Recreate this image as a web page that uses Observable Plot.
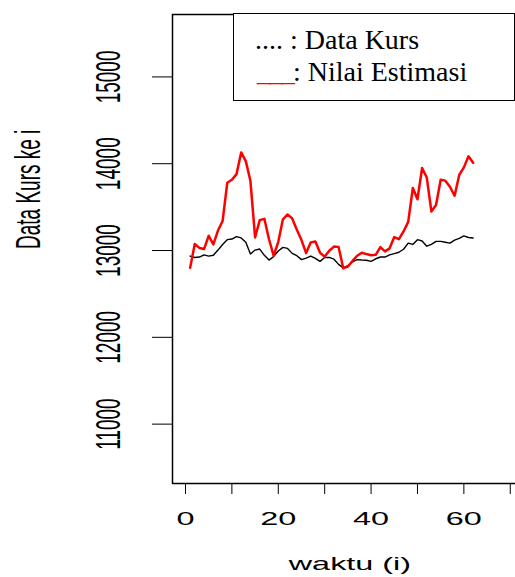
<!DOCTYPE html>
<html>
<head>
<meta charset="utf-8">
<script src="https://cdn.jsdelivr.net/npm/d3@7"></script>
<script src="https://cdn.jsdelivr.net/npm/@observablehq/plot@0.6"></script>
<style>
  html, body { margin: 0; padding: 0; background: white; }
  body { width: 515px; height: 577px; overflow: hidden; position: relative; }
  #chart svg { max-width: none !important; width: 530px !important; height: 577px !important; display: block; }
  #legend {
    position: absolute; left: 233px; top: 13px; width: 282px; height: 88px;
    box-sizing: border-box; border: 1px solid black; background: white;
    font-family: "Liberation Serif", "Times New Roman", serif; font-size: 28px; line-height: 28px; color: black;
  }
  #legend .row { position: absolute; left: 21px; white-space: pre; }
  #legend .red { color: #ff0000; letter-spacing: -2px; }
</style>
</head>
<body>
<div id="chart"></div>
<div id="legend">
  <div class="row" style="top:12px;">.... : Data Kurs</div>
  <div class="row" style="top:44px; left:23px;"><span class="red">___</span>: Nilai Estimasi</div>
</div>
<script>
// Data Kurs (black) and Nilai Estimasi (red), t = 1..62
const dataKurs = [12936, 12920, 12925, 12950, 12935, 12945, 13005, 13070, 13125, 13132,
  13160, 13145, 13095, 12960, 13005, 13017, 12945, 12890, 12930, 12995,
  13036, 13024, 12967, 12940, 12895, 12913, 12936, 12909, 12875, 12920,
  12920, 12900, 12840, 12800, 12825, 12870, 12895, 12890, 12888, 12875,
  12905, 12925, 12925, 12950, 12965, 12980, 13015, 13085, 13070, 13125,
  13110, 13050, 13070, 13105, 13105, 13095, 13085, 13120, 13140, 13168,
  13150, 13144];
const nilaiEstimasi = [12800, 13075, 13030, 13017, 13170, 13070, 13230, 13340, 13780, 13815,
  13880, 14130, 14030, 13800, 13150, 13350, 13365, 13130, 12940, 13100,
  13360, 13415, 13370, 13240, 13120, 12970, 13094, 13105, 12975, 12930,
  12997, 13045, 13040, 12795, 12815, 12880, 12940, 12975, 12959, 12945,
  12950, 13040, 12990, 13025, 13155, 13130, 13220, 13330, 13720, 13590,
  13950, 13842, 13450, 13525, 13815, 13805, 13735, 13631, 13870, 13958,
  14085, 14010];
const xTicks = [0, 10, 20, 30, 40, 50, 60, 70];
const xTickLabels = [0, 20, 40, 60];
const yTicks = [11000, 12000, 13000, 14000, 15000];
const xTitle = "waktu (i)";
const yTitle = "Data Kurs ke i";

const kurs = dataKurs.map((v, i) => ({t: i + 1, v}));
const estimasi = nilaiEstimasi.map((v, i) => ({t: i + 1, v}));

const chart = Plot.plot({
  width: 530, height: 577,
  marginLeft: 172, marginRight: 4, marginTop: 14, marginBottom: 94,
  style: {fontFamily: "'Liberation Sans', Arial, sans-serif", fontSize: "18px", color: "black", background: "white", maxWidth: "none"},
  x: {domain: [-2.8, 73.5], ticks: xTicks, tickSize: 11, tickPadding: 18,
      tickFormat: d => xTickLabels.includes(d) ? String(d) : "", label: null},
  y: {domain: [10316, 15719], ticks: yTicks, tickSize: 20, tickRotate: -90, tickPadding: 38,
      tickFormat: d => String(d), label: null},
  marks: [
    Plot.frame({stroke: "black", strokeWidth: 1.5}),
    Plot.line(kurs, {x: "t", y: "v", stroke: "black", strokeWidth: 1.4}),
    Plot.line(estimasi, {x: "t", y: "v", stroke: "#ff0000", strokeWidth: 2.5}),
    Plot.text([xTitle], {frameAnchor: "bottom", dy: 86, text: d => d, fontSize: 18, fill: "black"}),
    Plot.text([yTitle], {frameAnchor: "left", dx: -144, rotate: -90, text: d => d, fontSize: 19, fill: "black"})
  ]
});
document.getElementById("chart").appendChild(chart);

// y tick label size
chart.querySelectorAll('[aria-label^="y-axis"] text').forEach(t => t.setAttribute("font-size", "19"));

// horizontally stretch all texts around their own centre (the reference is widened)
const ns = "http://www.w3.org/2000/svg";
const SX = 1.8;
Array.from(chart.querySelectorAll("text")).forEach(el => {
  if (!el.textContent) return;
  const r = el.getBoundingClientRect();
  const m = el.parentNode.getScreenCTM();
  const cx = (r.left + r.width / 2 - m.e) / m.a;
  const g = document.createElementNS(ns, "g");
  g.setAttribute("transform", `translate(${cx},0) scale(${SX},1) translate(${-cx},0)`);
  el.parentNode.insertBefore(g, el);
  g.appendChild(el);
});
</script>
</body>
</html>
